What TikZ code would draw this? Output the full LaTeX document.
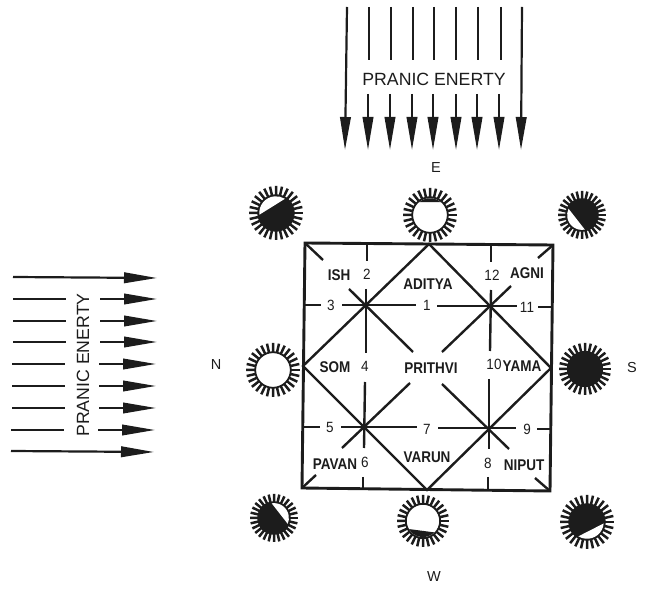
\documentclass[tikz,border=0pt]{standalone}
\usepackage{fontspec}
\setmainfont{Liberation Sans}
\usetikzlibrary{arrows.meta}
\definecolor{inkblack}{RGB}{28,28,28}
\tikzset{
  frameline/.style={draw=inkblack, line width=2.9pt, line join=miter},
  gridline/.style={draw=inkblack, line width=2.4pt},
  sunray/.style={draw=inkblack, line width=2.5pt},
  flowline/.style={draw=inkblack, line width=2.2pt},
  flowarrow/.style={flowline, -{Triangle[length=33pt,width=10.5pt]}},
  zonename/.style={font=\fontsize{13.5}{14}\selectfont\bfseries, text=inkblack, inner sep=0pt, yscale=1.15},
  zonenum/.style={font=\fontsize{13.5}{14}\selectfont, text=inkblack, inner sep=0pt, yscale=1.1},
  compass/.style={font=\fontsize{14.5}{15}\selectfont, text=inkblack, inner sep=0pt},
  energylabel/.style={font=\fontsize{17.7}{18}\selectfont, text=inkblack, inner sep=0pt}
}
\begin{document}
\begin{tikzpicture}[x=1pt,y=-1pt]
\useasboundingbox (0,0) rectangle (654,601);
% energy arrows from the east
\foreach \xa/\xb/\ya/\yb in {347/345/7/150, 522/521/7/150}
  \draw[flowarrow] (\xa,\ya) -- (\xb,\yb);
\foreach \xa/\xb in {369/368, 391/390, 413/412, 434/433, 456/456, 478/477, 501/499}{
  \draw[flowline] (\xa,7) -- (\xa,60);
  \draw[flowarrow] (\xb,94) -- (\xb,150);
}
\node[energylabel] (topflow) at (434,79) {PRANIC ENERTY};
% energy arrows from the north
\foreach \xa/\xb/\ya/\yb in {13/157/277/278, 11/154/451/452}
  \draw[flowarrow] (\xa,\ya) -- (\xb,\yb);
\foreach \ya/\xa in {299/13, 321/13, 342/13, 364/12, 386/12, 408/12, 430/11}{
  \draw[flowline] (\xa,\ya) -- (\xa+53,\ya);
  \draw[flowarrow] (\xa+87,\ya) -- (\xa+144,\ya);
}
\node[energylabel, rotate=90] (leftflow) at (83,365) {PRANIC ENERTY};
% the square and its diamond
\coordinate (tl) at (305,243);
\coordinate (tr) at (553,245);
\coordinate (br) at (550,491);
\coordinate (bl) at (302,488);
\coordinate (tm) at (429,244);
\coordinate (rm) at (551,368);
\coordinate (bm) at (427,490);
\coordinate (lm) at (303,366);
\draw[frameline] (tl) -- (tr) -- (br) -- (bl) -- cycle;
\draw[gridline] (tm) -- (rm) -- (bm) -- (lm) -- cycle;
% broken grid lines
\foreach \xa/\ya/\xb/\yb in {
  305/305/321/305, 342/305/416/305, 437/306/517/306, 538/307/553/307,
  303/427/320/427, 341/427/417/427, 438/428/516/428, 537/429/551/429,
  367/244/367/261, 366/289/366/353, 491/246/491/262, 491/290/490/351,
  365/382/364/448, 363/477/363/489, 489/379/489/449, 488/477/488/490,
  305/243/323/260, 349/289/413/352, 553/245/538/258, 511/286/442/352,
  302/488/316/475, 342/448/410/383, 550/491/535/478, 509/449/442/384}
  \draw[gridline] (\xa,\ya) -- (\xb,\yb);
% zones
\node[zonename] (ish) at (339,275) {ISH};
\node[zonename] (aditya) at (428,284) {ADITYA};
\node[zonename] (agni) at (527,273) {AGNI};
\node[zonename] (som) at (335,367) {SOM};
\node[zonename] (prithvi) at (431,368) {PRITHVI};
\node[zonename] (yama) at (522,366) {YAMA};
\node[zonename] (pavan) at (335,464) {PAVAN};
\node[zonename] (varun) at (427,457) {VARUN};
\node[zonename] (niput) at (524,465) {NIPUT};
\foreach \nx/\ny/\nt in {427/305/1, 367/274/2, 331/305/3, 365/366/4, 330/427/5,
  365/462/6, 427/429/7, 488/463/8, 527/429/9, 494/364/10, 527/307/11, 492/275/12}
  \node[zonenum] (num\nt) at (\nx,\ny) {\nt};
% compass
\node[compass] (east) at (436,168) {E};
\node[compass] (north) at (216,365) {N};
\node[compass] (south) at (632,368) {S};
\node[compass] (west) at (434,577) {W};
% suns: centre, ray radius, disc colour, phase colour, phase arc
\foreach \sx/\sy/\sr/\dcol/\pcol/\sa/\ea in {
  276/213/27/inkblack/white/174/302,
  430/215/27/white/inkblack/230/310,
  582/215/24/inkblack/white/79/205,
  273/370/27/white/white/0/1,
  585/369/26/inkblack/inkblack/0/1,
  274/518/24/inkblack/white/261/383,
  423/521/26/white/inkblack/45/150,
  587/522/27/inkblack/white/5/121}{
  \foreach \ra in {0,12.857,...,350}
    \draw[sunray] (\sx,\sy) ++(\ra:\sr*0.62) -- ++(\ra:\sr*0.38);
  \fill[draw=inkblack, line width=1.8pt, fill=\dcol] (\sx,\sy) circle[radius=\sr*0.66];
  \fill[\pcol] (\sx,\sy) ++(\sa:\sr*0.62) arc[start angle=\sa, end angle=\ea, radius=\sr*0.62] -- cycle;
}
\end{tikzpicture}
\end{document}
